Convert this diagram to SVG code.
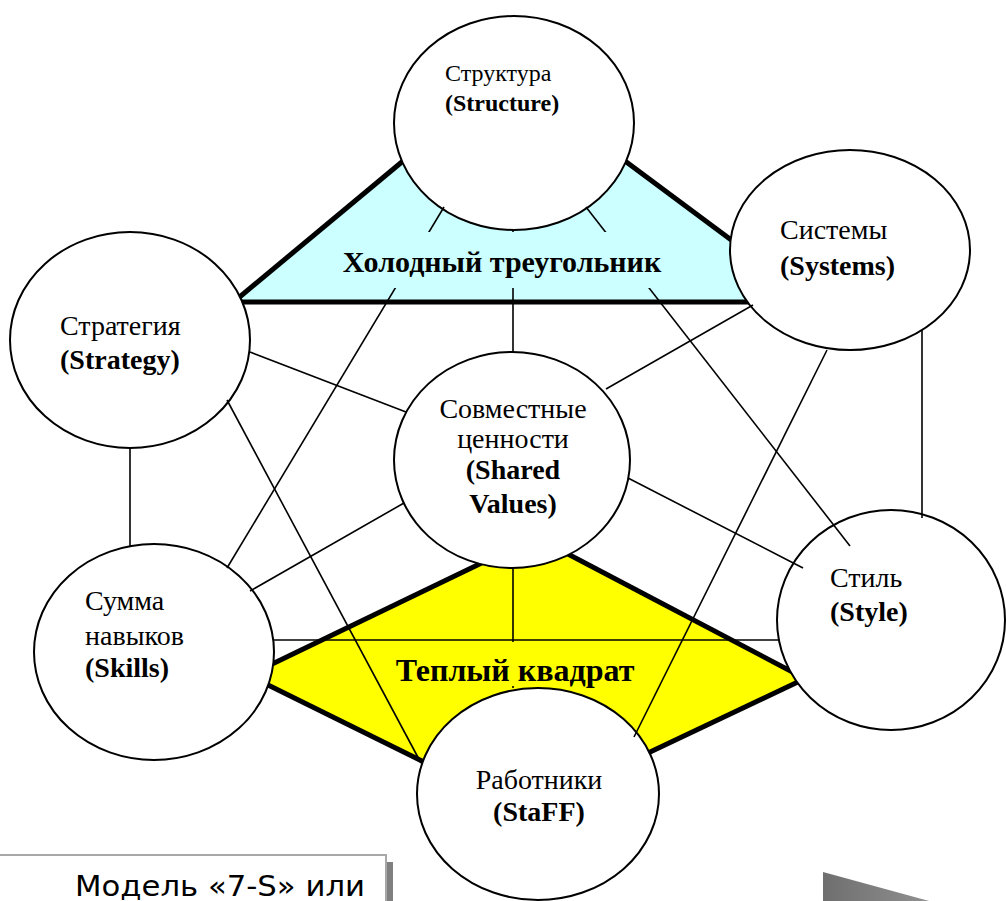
<svg xmlns="http://www.w3.org/2000/svg" width="1006" height="901" viewBox="0 0 1006 901">
  <defs>
    <linearGradient id="arrowFill" x1="0" y1="0" x2="1" y2="0">
      <stop offset="0" stop-color="#6f6f6f"/>
      <stop offset="1" stop-color="#a8a8a8"/>
    </linearGradient>
  </defs>
  <style>
    .node { fill: #ffffff; stroke: #000000; stroke-width: 2; }
    .thick { stroke: #000000; stroke-width: 5; fill: none; stroke-linecap: butt; }
    .thin { stroke: #000000; stroke-width: 1.6; fill: none; }
    .t { font-family: "Liberation Serif", "Times New Roman", serif; font-size: 28px; fill: #000000; }
    .b { font-weight: bold; }
    .small { font-size: 24px; }
    .mid { text-anchor: middle; }
    .lbl { font-family: "Liberation Serif", "Times New Roman", serif; font-weight: bold; fill: #000000; text-anchor: middle; }
  </style>
  <rect width="1006" height="901" fill="#ffffff"/>

  <!-- shaded regions: cold triangle and warm square -->
  <g id="regions">
    <polygon points="238,300 401,162 514,190 623,160 737,243 770,302 238,302" fill="#ccffff"/>
    <polygon points="512,520 487,562 270,664 266,684 426,763 538,790 652,751 800,681 800,676 572,556" fill="#ffff00"/>
    <line class="thick" x1="236" y1="300" x2="403" y2="161"/>
    <line class="thick" x1="621" y1="158" x2="738" y2="245"/>
    <line class="thick" x1="236" y1="302" x2="756" y2="302"/>
    <line class="thick" x1="492" y1="558" x2="268" y2="666"/>
    <line class="thick" x1="264" y1="683" x2="430" y2="765"/>
    <line class="thick" x1="648" y1="753" x2="802" y2="680"/>
    <line class="thick" x1="566" y1="553" x2="802" y2="677"/>
  </g>

  <g id="node-structure">
    <ellipse class="node" cx="514" cy="123" rx="120" ry="107"/>
    <text class="t small" x="445" y="81">Структура</text>
    <text class="t small b" x="445" y="111">(Structure)</text>
  </g>
  <g id="node-systems">
    <ellipse class="node" cx="850" cy="250" rx="120" ry="100"/>
    <text class="t" x="780" y="239">Системы</text>
    <text class="t b" x="780" y="275">(Systems)</text>
  </g>
  <g id="node-strategy">
    <ellipse class="node" cx="130" cy="340" rx="120" ry="108"/>
    <text class="t" x="60" y="335">Стратегия</text>
    <text class="t b" x="60" y="369">(Strategy)</text>
  </g>
  <g id="node-shared-values">
    <ellipse class="node" cx="512" cy="460" rx="118" ry="108"/>
    <text class="t mid" x="513" y="418">Совместные</text>
    <text class="t mid" x="513" y="448">ценности</text>
    <text class="t b mid" x="513" y="479">(Shared</text>
    <text class="t b mid" x="513" y="513">Values)</text>
  </g>
  <g id="node-skills">
    <ellipse class="node" cx="154" cy="652" rx="120" ry="108"/>
    <text class="t" x="85" y="610">Сумма</text>
    <text class="t" x="85" y="645">навыков</text>
    <text class="t b" x="85" y="677">(Skills)</text>
  </g>
  <g id="node-style">
    <ellipse class="node" cx="891" cy="620" rx="114" ry="110"/>
    <text class="t" x="830" y="587">Стиль</text>
    <text class="t b" x="830" y="621">(Style)</text>
  </g>
  <g id="node-staff">
    <ellipse class="node" cx="538" cy="794" rx="121" ry="106"/>
    <text class="t mid" x="539" y="789">Работники</text>
    <text class="t b mid" x="539" y="821">(StaFF)</text>
  </g>

  <g id="connectors">
    <line class="thin" x1="513" y1="230" x2="513" y2="352"/>
    <line class="thin" x1="444" y1="207" x2="227" y2="568"/>
    <line class="thin" x1="586" y1="207" x2="850" y2="546"/>
    <line class="thin" x1="250" y1="352" x2="406" y2="412"/>
    <line class="thin" x1="130" y1="448" x2="130" y2="546"/>
    <line class="thin" x1="227" y1="400" x2="421" y2="763"/>
    <line class="thin" x1="753" y1="305" x2="606" y2="389"/>
    <line class="thin" x1="827" y1="350" x2="634" y2="737"/>
    <line class="thin" x1="922" y1="330" x2="922" y2="518"/>
    <line class="thin" x1="404" y1="503" x2="250" y2="591"/>
    <line class="thin" x1="628" y1="478" x2="803" y2="568"/>
    <line class="thin" x1="513" y1="568" x2="513" y2="688"/>
    <line class="thin" x1="273" y1="640" x2="780" y2="640"/>
  </g>

  <g id="label-cold">
    <rect x="330" y="232" width="360" height="56" fill="#ccffff"/>
    <text class="lbl" x="502" y="272" font-size="30">Холодный треугольник</text>
  </g>
  <g id="label-warm">
    <rect x="392" y="642" width="250" height="44" fill="#ffff00"/>
    <text class="lbl" x="515" y="681" font-size="32">Теплый квадрат</text>
  </g>

  <g id="caption">
    <rect x="386" y="862" width="7" height="45" fill="#808080"/>
    <rect x="-2" y="855" width="388" height="50" fill="#ffffff" stroke="#a8a8a8" stroke-width="2"/>
    <text x="75" y="896" font-family="DejaVu Sans, sans-serif" font-size="29" textLength="290" lengthAdjust="spacingAndGlyphs" fill="#000000">Модель «7-S» или</text>
  </g>

  <g id="arrow-shape">
    <polygon points="823,872 1006,922 1006,940 823,940" fill="url(#arrowFill)"/>
  </g>
</svg>
